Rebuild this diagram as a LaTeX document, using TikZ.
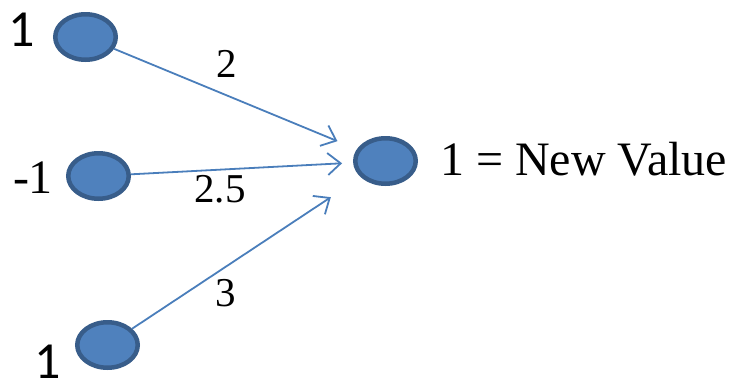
\documentclass[tikz,border=0pt]{standalone}
\usepackage{fontspec}
\setmainfont{Liberation Serif}
\newfontfamily\calib{Carlito}
\newfontfamily\serifnum{Liberation Serif}
\usetikzlibrary{shapes.geometric,arrows.meta}
\definecolor{nodefill}{HTML}{4F81BD}
\definecolor{nodeline}{HTML}{385D8A}
\definecolor{edgeblue}{HTML}{4A7EBB}
\begin{document}
\begin{tikzpicture}[x=1pt,y=-1pt,
  neuron/.style={ellipse,fill=nodefill,draw=nodeline,line width=4.5pt,inner sep=0pt,minimum width=60.5pt,minimum height=45.5pt},
  conn/.style={draw=edgeblue,line width=1.8pt,-{Straight Barb[length=13pt,width=22pt,line width=1.8pt]}},
  wlabel/.style={font=\serifnum\fontsize{41}{41}\selectfont,inner sep=0pt,anchor=base},
  inlabel/.style={font=\calib\fontsize{52}{52}\selectfont,inner sep=0pt,anchor=base}]
\useasboundingbox (0,0) rectangle (740,384);
\node[neuron] (a) at (85.5,37) {};
\node[neuron] (b) at (98.5,176) {};
\node[neuron] (c) at (107.5,345) {};
\node[neuron] (d) at (385.5,161) {};
\node[inlabel] (la) at (22,46) {1};
\node[font=\serifnum\fontsize{48}{48}\selectfont,inner sep=0pt,anchor=base] (lb) at (33,193) {-1};
\node[inlabel] (lc) at (48,378) {1};
\node[font=\serifnum\fontsize{48}{48}\selectfont,inner sep=0pt,anchor=base west] (ld) at (440,175) {1 = New Value};
\draw[conn,shorten >=21pt] (a) -- (d);
\draw[conn,shorten >=11pt] (b) -- (d);
\draw[conn,shorten >=36pt] (c) -- (d);
\node[wlabel] (w1) at (227,77) {2};
\node[wlabel] (w2) at (220,202) {2.5};
\node[wlabel] (w3) at (226,306) {3};
\end{tikzpicture}
\end{document}
